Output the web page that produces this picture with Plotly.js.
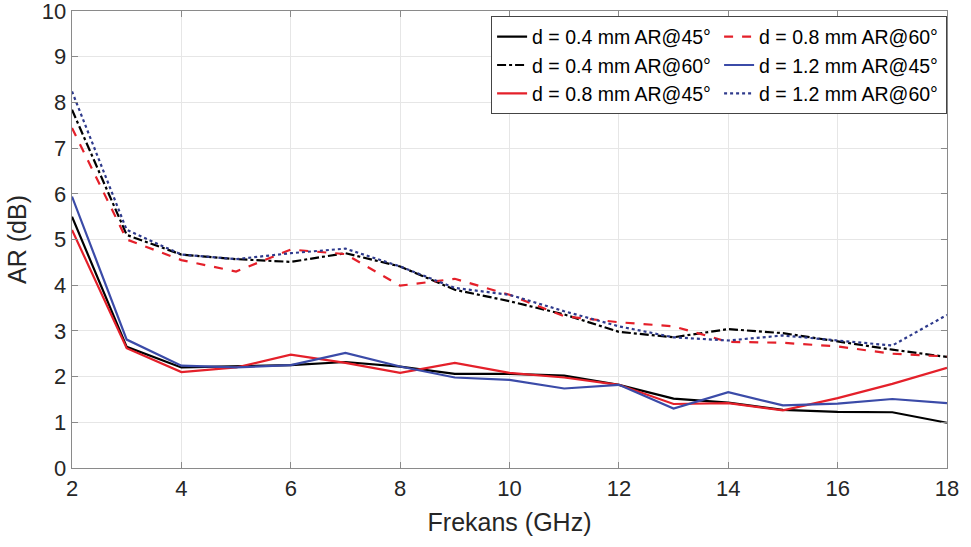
<!DOCTYPE html>
<html>
<head>
<meta charset="utf-8">
<script src="https://cdn.plot.ly/plotly-3.0.1.min.js"></script>
<style>html,body{margin:0;padding:0;background:#fff;}#chart{width:971px;height:547px;}</style>
</head>
<body>
<div id="chart"></div>
<script>
const freq = [2,3,4,5,6,7,8,9,10,11,12,13,14,15,16,17,18];
const d04_45 = [5.5,2.65,2.2,2.22,2.25,2.32,2.22,2.06,2.06,2.02,1.82,1.52,1.43,1.27,1.23,1.22,0.99];
const d04_60 = [7.84,5.1,4.67,4.57,4.51,4.7,4.41,3.9,3.65,3.36,2.98,2.86,3.04,2.95,2.77,2.59,2.43];
const d08_45 = [5.21,2.62,2.1,2.2,2.48,2.3,2.08,2.3,2.08,1.98,1.82,1.4,1.42,1.26,1.53,1.84,2.19];
const d08_60 = [7.44,5.0,4.55,4.3,4.78,4.68,3.99,4.14,3.79,3.32,3.19,3.1,2.76,2.74,2.66,2.5,2.44];
const d12_45 = [5.94,2.81,2.24,2.2,2.25,2.52,2.22,1.98,1.93,1.74,1.82,1.3,1.66,1.37,1.41,1.51,1.42];
const d12_60 = [8.24,5.21,4.67,4.57,4.7,4.8,4.41,3.94,3.79,3.43,3.1,2.86,2.79,2.9,2.79,2.68,3.35];
const names = ['d = 0.4 mm AR@45°','d = 0.4 mm AR@60°','d = 0.8 mm AR@45°','d = 0.8 mm AR@60°','d = 1.2 mm AR@45°','d = 1.2 mm AR@60°'];

const RED = '#e4202a', BLUE = '#3b4ba8', NAVY = '#2e3a8c';
function tr(y, name, color, dash, rank) {
  return {x: freq, y: y, name: name, type: 'scatter', mode: 'lines',
    line: {color: color, width: 2.2, dash: dash}, legendrank: rank};
}
const data = [
  tr(d04_45, names[0], '#000000', 'solid', 1),
  tr(d04_60, names[1], '#000000', 'dashdot', 3),
  tr(d08_45, names[2], RED, 'solid', 5),
  tr(d08_60, names[3], RED, 'dash', 2),
  tr(d12_45, names[4], BLUE, 'solid', 4),
  tr(d12_60, names[5], NAVY, 'dot', 6)
];
const FONT = 'Liberation Sans, Arial, sans-serif';
const layout = {
  width: 971, height: 547,
  margin: {l: 71.5, r: 23.5, t: 10.5, b: 78.5, autoexpand: false},
  paper_bgcolor: '#fff', plot_bgcolor: '#fff',
  font: {family: FONT, size: 22, color: '#262626'},
  showlegend: true,
  legend: {
    orientation: 'h', x: 1.0001, xanchor: 'right', y: 0.988, yanchor: 'top',
    bgcolor: '#fff', bordercolor: '#444', borderwidth: 1,
    font: {family: FONT, size: 19.5, color: '#000'},
    traceorder: 'normal', itemwidth: 30, entrywidth: 182, entrywidthmode: 'pixels'
  },
  xaxis: {
    range: [2, 18], tickvals: [2,4,6,8,10,12,14,16,18],
    showgrid: true, gridcolor: '#e6e6e6', gridwidth: 1,
    zeroline: false, showline: true, linecolor: '#8a8a8a', linewidth: 1.3,
    mirror: 'ticks', ticks: 'inside', ticklen: 6, tickcolor: '#8a8a8a',
    ticklabeloverflow: 'allow',
    tickfont: {family: FONT, size: 22, color: '#262626'},
    title: {text: 'Frekans (GHz)', font: {family: FONT, size: 25, color: '#262626'}, standoff: 13}
  },
  yaxis: {
    range: [0, 10], tickvals: [0,1,2,3,4,5,6,7,8,9,10],
    showgrid: true, gridcolor: '#e6e6e6', gridwidth: 1,
    zeroline: false, showline: true, linecolor: '#8a8a8a', linewidth: 1.3,
    mirror: 'ticks', ticks: 'inside', ticklen: 6, tickcolor: '#8a8a8a',
    ticklabeloverflow: 'allow',
    tickfont: {family: FONT, size: 22, color: '#262626'},
    title: {text: 'AR (dB)', font: {family: FONT, size: 25, color: '#262626'}, standoff: 8}
  }
};
Plotly.newPlot('chart', data, layout, {displayModeBar: false, staticPlot: true});
</script>
</body>
</html>
